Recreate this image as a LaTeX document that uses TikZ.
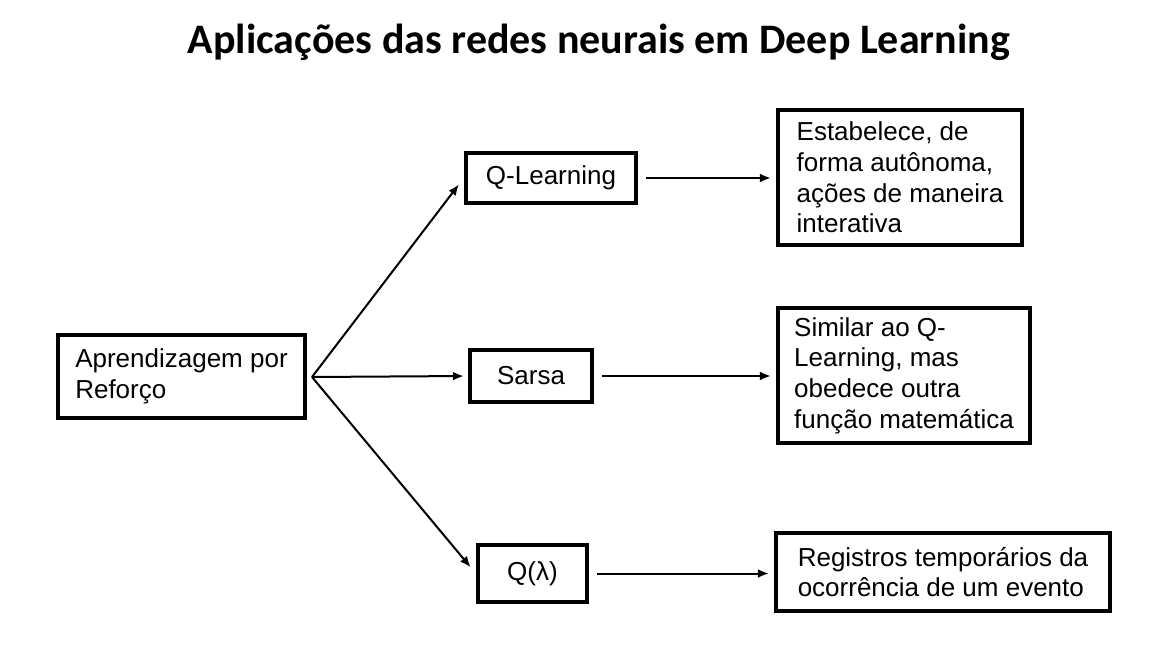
\documentclass[tikz,border=0pt]{standalone}
\usepackage{fontspec}
\setmainfont{Liberation Sans}
\newfontfamily\titulofonte{Carlito}
\usetikzlibrary{arrows.meta}
\begin{document}
\begin{tikzpicture}[x=0.5pt,y=-0.5pt,
	caixa/.style={draw, line width=2.2pt, align=left, inner sep=0pt, font=\fontsize{13}{15.3}\selectfont},
	seta/.style={-{Latex[length=5.5pt,width=4.5pt]}, line width=1pt}] %Início do desenho
	\useasboundingbox (0,0) rectangle (1163,652);
		%Título
	\node[anchor=base, font=\titulofonte\bfseries\fontsize{21}{25}\selectfont] (titulo) at (599,54) {Aplicações das redes neurais em Deep Learning};
		%Caixas
	\node[caixa, minimum width=123.5pt, minimum height=41.5pt] (apr) at (181.5,376.5) {Aprendizagem por\\Reforço};
	\node[caixa, minimum width=85pt, minimum height=25pt] (qlearn) at (551,178) {Q-Learning};
	\node[caixa, minimum width=61pt, minimum height=26pt] (sarsa) at (531,376) {Sarsa};
	\node[caixa, minimum width=54.5pt, minimum height=28.5pt] (qlambda) at (532.5,573.5) {Q(λ)};
	\node[caixa, minimum width=122pt, minimum height=67.5pt] (estab) at (900,177.5) {Estabelece, de\\forma autônoma,\\ações de maneira\\interativa};
	\node[caixa, minimum width=126pt, minimum height=67.5pt] (simil) at (904,375.5) {Similar ao Q-\\Learning, mas\\obedece outra\\função matemática};
	\node[caixa, minimum width=167pt, minimum height=39pt] (regis) at (943,572) {Registros temporários da\\ocorrência de um evento};
		%Setas
	\coordinate (ramo) at (312,377);
	\draw[seta, shorten >=4pt] (ramo) -- (qlearn.west);
	\draw[seta, shorten >=2pt] (ramo) -- (sarsa.west);
	\draw[seta, shorten >=4pt] (ramo) -- (qlambda.west);
	\draw[seta, shorten <=4pt, shorten >=2.5pt] (qlearn) -- (estab.west |- qlearn);
	\draw[seta, shorten <=4pt, shorten >=2.5pt] (sarsa) -- (simil.west |- sarsa);
	\draw[seta, shorten <=4pt, shorten >=2.5pt] (qlambda) -- (regis.west |- qlambda);
\end{tikzpicture}
\end{document}
